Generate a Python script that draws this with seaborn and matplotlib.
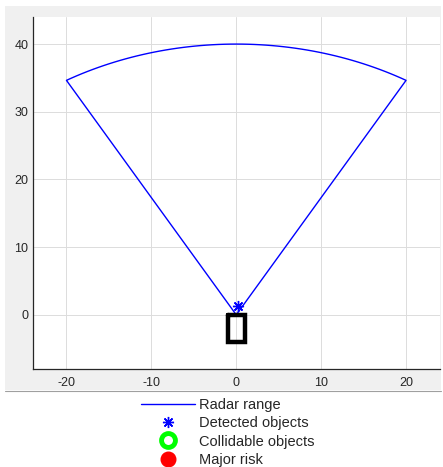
import numpy as np
import pandas as pd
import matplotlib
matplotlib.use("Agg")
import matplotlib.pyplot as plt
from matplotlib.patches import Rectangle
from matplotlib.lines import Line2D
import seaborn as sns

# Radar field of view: range 40 m, +/-30 deg either side of the heading
radar_range = 40
fov_deg = 60

# Ego vehicle outline (closed rectangle)
car_x = [-1, 1, 1, -1, -1]
car_y = [0, 0, -4, -4, 0]

# Detected objects
det_x = [0.2]
det_y = [1.3]

# Collidable objects / major risk (none in this frame)
coll_x, coll_y = [], []
risk_x, risk_y = [], []

x_ticks = [-20, -10, 0, 10, 20]
y_ticks = [0, 10, 20, 30, 40]

# sector outline: origin -> arc -> origin
ang = np.deg2rad(np.linspace(90 + fov_deg / 2, 90 - fov_deg / 2, 61))
sector = pd.DataFrame({
    "x": np.concatenate([[0], radar_range * np.cos(ang), [0]]),
    "y": np.concatenate([[0], radar_range * np.sin(ang), [0]]),
})

sns.set_style("white")
plt.rcParams["font.family"] = ["Liberation Sans", "DejaVu Sans"]
plt.rcParams["axes.unicode_minus"] = False

fig = plt.figure(figsize=(4.43, 4.67), dpi=100)
fig.patch.set_facecolor("white")

# grey MATLAB-like panel behind the axes
W, H = 443, 467
fig.patches.append(Rectangle((5 / W, (H - 390) / H), 436 / W, 384 / H,
                             transform=fig.transFigure, facecolor="#f0f0f0",
                             edgecolor="none", zorder=-10))
fig.add_artist(Line2D([5 / W, 441 / W], [(H - 390.5) / H] * 2,
                      transform=fig.transFigure, color="#a0a0a0", lw=0.8))

ax = fig.add_axes([32.5 / W, (H - 369) / H, 407.5 / W, 352 / H])
ax.set_facecolor("white")

sns.lineplot(data=sector, x="x", y="y", sort=False, estimator=None,
             color="#0000ff", linewidth=1.0, ax=ax, label="Radar range")
ax.plot(car_x, car_y, color="black", linewidth=3.2, solid_joinstyle="miter",
        label="_nolegend_")
asterisk = (8, 2, 0)
ax.plot(det_x, det_y, linestyle="none", marker=asterisk, color="#0000ff",
        markersize=8, markeredgewidth=1.0, label="Detected objects")
ax.plot(coll_x, coll_y, linestyle="none", marker="o", markersize=10,
        markerfacecolor="white", markeredgecolor="#00ff00",
        markeredgewidth=3.5, label="Collidable objects")
ax.plot(risk_x, risk_y, linestyle="none", marker="o", markersize=10.5,
        color="#ff0000", label="Major risk")

ax.set_xlim(-24, 24)
ax.set_ylim(-8, 44)
ax.set_xticks(x_ticks)
ax.set_yticks(y_ticks)
ax.set_xlabel("")
ax.set_ylabel("")
ax.grid(True, color="#dcdcdc", linewidth=0.7)
ax.set_axisbelow(True)
for s in ["top", "right"]:
    ax.spines[s].set_visible(False)
for s in ["left", "bottom"]:
    ax.spines[s].set_color("#262626")
    ax.spines[s].set_linewidth(0.9)
ax.tick_params(direction="in", length=3, width=0.7, colors="#262626",
               labelsize=9, pad=3)
ax.tick_params(axis="x", pad=6)

leg = ax.legend(loc="upper center", bbox_to_anchor=(227.5 / W, (H - 392) / H),
                bbox_transform=fig.transFigure, frameon=False, fontsize=10.5,
                handlelength=3.7, handletextpad=0.3, labelspacing=0.3,
                borderaxespad=0)
for t in leg.get_texts():
    t.set_color("#262626")

fig.savefig("out.png", dpi=100)
